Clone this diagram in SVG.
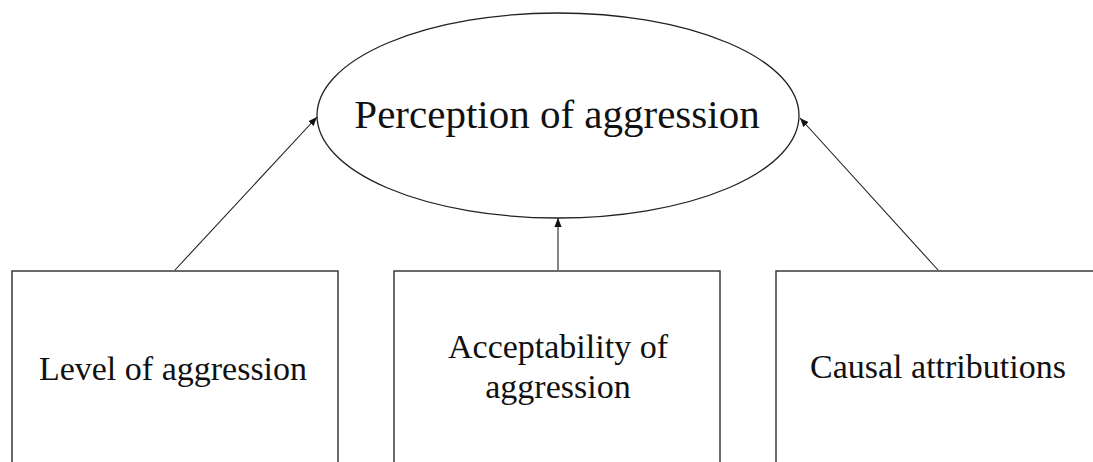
<svg xmlns="http://www.w3.org/2000/svg" width="1093" height="462" viewBox="0 0 1093 462">
<style>
.box{fill:#fff;stroke:#3a3a3a;stroke-width:1.5}
.ell{fill:#fff;stroke:#222;stroke-width:1.3}
.t{font-family:"Liberation Serif","Times New Roman",serif;fill:#111;text-anchor:middle}
.c{stroke:#222;stroke-width:1.1;fill:none;marker-end:url(#ah)}
</style>
<defs>
<marker id="ah" viewBox="0 0 10 10" refX="10" refY="5" markerWidth="9" markerHeight="9" markerUnits="userSpaceOnUse" orient="auto">
<path d="M0,1 L10,5 L0,9 Z" fill="#111"/>
</marker>
</defs>
<rect width="1093" height="462" fill="#fff"/>
<g id="perception">
<ellipse class="ell" cx="558" cy="115.5" rx="241" ry="102.5"/>
<text class="t" x="557" y="128" font-size="41">Perception of aggression</text>
</g>
<g id="level">
<rect class="box" x="12" y="271" width="326" height="200"/>
<text class="t" x="173" y="380" font-size="34">Level of aggression</text>
</g>
<g id="acceptability">
<rect class="box" x="394" y="271" width="326" height="200"/>
<text class="t" x="558" y="358" font-size="34">Acceptability of</text>
<text class="t" x="558" y="398" font-size="34">aggression</text>
</g>
<g id="causal">
<rect class="box" x="776" y="271" width="326" height="200"/>
<text class="t" x="938" y="378" font-size="34">Causal attributions</text>
</g>
<g id="connectors">
<line class="c" x1="175" y1="270" x2="317" y2="117"/>
<line class="c" x1="558" y1="270" x2="558" y2="218"/>
<line class="c" x1="938" y1="270" x2="800" y2="118"/>
</g>
</svg>
